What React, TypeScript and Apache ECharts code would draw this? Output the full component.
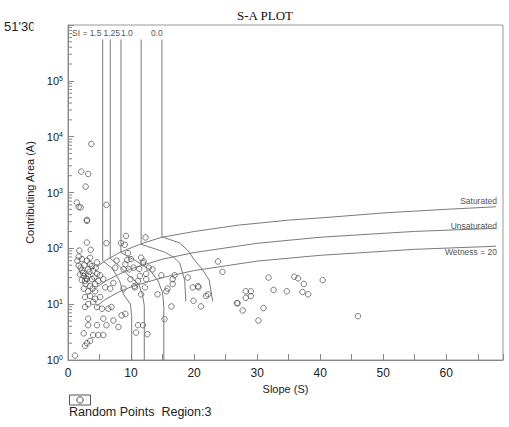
import React, { useEffect, useRef } from "react";
import * as echarts from "echarts";

// ---- data: [slope (S), contributing area (A)] ----
const randomPoints: number[][] = [
  [3.7, 7400], [2.1, 2370], [3.2, 2150], [2.8, 1275], [1.4, 660], [1.7, 550], [2.0, 540],
  [6.1, 600], [3.0, 324], [3.0, 310],
  [3.0, 127], [1.8, 91], [3.6, 94], [1.7, 71], [6.1, 124], [8.4, 124], [9.0, 116],
  [9.2, 167], [12.3, 157], [9.5, 82],
  [2.2, 64], [3.5, 68], [1.5, 60], [3.0, 60], [1.7, 49], [2.6, 50], [3.5, 52], [4.6, 56],
  [2.2, 40], [3.2, 42], [4.0, 40], [2.5, 32], [3.2, 32], [2.9, 29], [3.0, 28], [3.8, 28],
  [4.6, 35], [2.8, 23], [3.5, 21], [4.3, 23], [2.5, 19], [3.2, 17], [4.3, 17], [5.6, 28],
  [7.2, 24], [5.9, 20], [6.7, 19], [7.7, 60], [9.4, 62], [10.0, 64], [9.1, 52], [7.5, 45],
  [10.4, 45], [11.6, 68], [12.0, 58], [12.8, 45], [8.8, 42], [9.9, 28], [11.4, 32],
  [12.2, 20], [8.8, 19], [10.6, 20],
  [2.0, 45], [2.4, 36], [3.8, 48], [4.2, 30], [1.9, 34], [3.4, 38], [2.7, 26], [4.8, 26],
  [3.9, 19], [2.2, 27], [5.1, 33], [4.4, 45],
  [2.7, 13.4], [3.5, 14], [4.3, 12.5], [5.1, 13.4], [3.2, 10], [4.0, 11], [4.6, 8.9],
  [5.4, 8.3], [6.4, 8.3], [6.9, 8.9], [9.1, 6.7], [8.5, 6.3], [2.7, 8.9], [3.2, 5.5],
  [5.6, 5.5], [7.2, 5.1], [8.0, 3.9], [3.2, 4.2], [4.6, 4.2], [6.1, 4.2], [2.5, 3.0],
  [4.0, 2.8], [4.8, 2.8], [5.6, 2.8], [3.5, 2.2], [3.0, 2.0], [2.7, 1.8], [1.1, 1.2],
  [11.1, 4.2], [11.9, 4.2], [10.8, 3.1], [12.6, 2.9],
  [9.7, 42], [11.3, 43], [13.4, 42], [12.4, 35], [14.8, 33], [11.1, 26], [12.4, 28],
  [10.5, 21], [16.6, 28], [16.9, 33], [19.0, 30], [16.6, 23], [15.8, 19], [15.6, 17],
  [14.2, 15], [11.6, 15], [19.8, 20], [20.6, 21], [20.7, 20], [22.2, 15], [21.9, 14],
  [19.9, 11.5], [21.1, 9.1], [16.4, 9.1], [15.3, 5.4], [23.8, 58], [24.5, 38],
  [26.8, 10.5], [26.9, 10.3], [11.9, 54],
  [27.7, 7.7], [28.2, 17], [29.0, 17], [28.2, 13], [29.0, 14], [31.0, 8.5], [30.2, 5.1],
  [31.8, 30], [32.6, 18], [34.7, 17], [35.9, 31], [36.5, 29], [37.4, 23], [37.2, 16.5],
  [38.1, 15], [40.4, 27], [46.0, 6.1]
];

const saturatedLine: number[][] = [
  [4.5, 46], [6, 61], [8, 82], [10, 102], [12, 125], [14.9, 158], [20, 200], [27, 260],
  [35, 320], [41.4, 360], [50, 430], [60, 500], [67.9, 555]
];
const unsaturatedLine: number[][] = [
  [4.5, 20], [6, 26], [8, 34], [10, 43], [15, 64], [20, 84], [30, 123], [40, 158],
  [55, 201], [67.9, 228]
];
const wetnessLine: number[][] = [
  [4.5, 9.2], [6, 12.3], [8, 16.4], [10, 20.4], [15, 30], [20, 40], [30, 59], [40, 75],
  [55, 96], [67.9, 109]
];

const si15Line: number[][] = [[5.5, 5.5e5], [5.5, 60], [7.0, 44], [8.2, 26], [8.8, 15], [9.9, 10], [10.1, 6], [10.1, 1]];
const si125Line: number[][] = [[6.7, 5.5e5], [6.7, 66], [8.2, 48], [9.7, 32], [11.2, 23], [11.8, 15], [12.1, 9.4], [12.1, 1]];
const si10Line: number[][] = [[8.4, 5.5e5], [8.4, 84], [10.5, 62], [12.9, 42], [14.3, 26], [15.0, 16], [15.2, 9], [15.2, 1]];
const si05Line: number[][] = [[11.6, 5.5e5], [11.6, 118], [15.3, 86], [16.7, 70], [17.7, 55], [18.5, 27], [18.7, 11.2]];
const si00Line: number[][] = [[14.9, 5.5e5], [14.9, 161], [17.7, 125], [19.0, 92], [20.0, 63], [21.3, 42], [22.4, 27], [22.95, 11.2]];

const xTickLabels = [0, 10, 20, 30, 40, 50, 60];
const yTickExponents = [0, 1, 2, 3, 4, 5];
const siLabels = ["SI = 1.5", "1.25", "1.0", "0.0"];
const curveLabels = ["Saturated", "Unsaturated", "Wetness = 20"];

const SANS = "Liberation Sans, Arial, sans-serif";
const LINE = "#7a7a7a";

export default function App() {
  const ref = useRef<HTMLDivElement>(null);

  useEffect(() => {
    document.body.style.margin = "0";
    if (!ref.current) return;
    const chart = echarts.init(ref.current, null, { renderer: "svg" });

    const lineSeries = (data: number[][]) => ({
      type: "line",
      data,
      showSymbol: false,
      symbol: "none",
      silent: true,
      lineStyle: { color: LINE, width: 1 },
      z: 3
    });

    chart.setOption({
      animation: false,
      backgroundColor: "#fff",
      title: {
        text: "S-A PLOT",
        left: 232,
        top: 4,
        textStyle: { fontFamily: "Liberation Serif, Times New Roman, serif", fontSize: 13, fontWeight: "normal", color: "#111" }
      },
      grid: { left: 68, top: 25, width: 435, height: 335, show: true, borderColor: "#999", borderWidth: 1 },
      xAxis: {
        type: "value",
        min: 0,
        max: 69,
        interval: 5,
        name: "Slope (S)",
        nameLocation: "middle",
        nameGap: 20,
        nameTextStyle: { fontFamily: SANS, fontSize: 11, color: "#222" },
        axisLine: { lineStyle: { color: "#888" } },
        axisTick: { inside: true, length: 6, lineStyle: { color: "#888" } },
        axisLabel: {
          fontFamily: SANS,
          fontSize: 12,
          color: "#222",
          margin: 7,
          formatter: (v: number) => (xTickLabels.indexOf(v) >= 0 ? String(v) : "")
        },
        splitLine: { show: false }
      },
      yAxis: {
        type: "log",
        logBase: 10,
        min: 1,
        max: 1e6,
        splitNumber: 6,
        name: "Contributing Area (A)",
        nameLocation: "middle",
        nameGap: 27,
        nameTextStyle: { fontFamily: SANS, fontSize: 11, color: "#222" },
        axisLine: { lineStyle: { color: "#888" } },
        axisTick: { inside: true, length: 6, lineStyle: { color: "#888" } },
        axisLabel: {
          fontFamily: SANS,
          fontSize: 11,
          color: "#222",
          margin: 5,
          formatter: (v: number) => {
            const e = Math.round(Math.log10(v));
            return yTickExponents.indexOf(e) >= 0 ? "10{s|" + e + "}" : "";
          },
          rich: { s: { fontSize: 7, fontFamily: SANS, color: "#222", verticalAlign: "top", padding: [0, 0, 5, 0] } }
        },
        splitLine: { show: false }
      },
      series: [
        {
          type: "scatter",
          data: randomPoints,
          symbol: "circle",
          symbolSize: 5.5,
          itemStyle: { color: "rgba(255,255,255,0)", borderColor: "#4a4a4a", borderWidth: 0.9 },
          z: 2
        },
        lineSeries(saturatedLine),
        lineSeries(unsaturatedLine),
        lineSeries(wetnessLine),
        lineSeries(si15Line),
        lineSeries(si125Line),
        lineSeries(si10Line),
        lineSeries(si05Line),
        lineSeries(si00Line)
      ]
    });

    const x0 = chart.convertToPixel({ xAxisIndex: 0 }, 0) as number;
    const minorTicks: any[] = [];
    for (let d = 0; d < 6; d++) {
      for (let k = 2; k <= 9; k++) {
        const py = chart.convertToPixel({ yAxisIndex: 0 }, k * Math.pow(10, d)) as number;
        minorTicks.push({
          type: "line",
          silent: true,
          shape: { x1: x0, y1: py, x2: x0 + 4, y2: py },
          style: { stroke: "#888", lineWidth: 1 }
        });
      }
    }

    const smallText = (text: string, x: number, y: number, align: string = "left") => ({
      type: "text",
      x,
      y,
      silent: true,
      style: { text, fill: "#555", font: "8.5px " + SANS, textAlign: align, textVerticalAlign: "middle" }
    });

    const siX = [72, 103.5, 121, 151];

    chart.setOption({
      graphic: [
        ...minorTicks,
        // corner map coordinate, cut off at the left of the frame
        { type: "text", x: 4, y: 26, z: 1, silent: true, style: { text: "51'30", fill: "#222", font: "13px " + SANS, textVerticalAlign: "middle" } },
        { type: "rect", z: 5, silent: true, shape: { x: 33.5, y: 15, width: 30, height: 22 }, style: { fill: "#fff" } },
        ...siLabels.map((t, i) => smallText(t, siX[i], 33)),
        smallText(curveLabels[0], 497, 201, "right"),
        smallText(curveLabels[1], 497, 226, "right"),
        smallText(curveLabels[2], 497, 252, "right"),
        // legend
        { type: "rect", silent: true, shape: { x: 69.5, y: 395, width: 21, height: 10 }, style: { fill: "none", stroke: "#555", lineWidth: 1 } },
        { type: "circle", silent: true, shape: { cx: 80, cy: 400, r: 3.2 }, style: { fill: "none", stroke: "#444", lineWidth: 1 } },
        { type: "text", x: 69, y: 412, silent: true, style: { text: "Random Points  Region:3", fill: "#222", font: "12.5px " + SANS, textVerticalAlign: "middle" } }
      ]
    });

    return () => chart.dispose();
  }, []);

  return <div ref={ref} style={{ width: 509, height: 427 }} />;
}
